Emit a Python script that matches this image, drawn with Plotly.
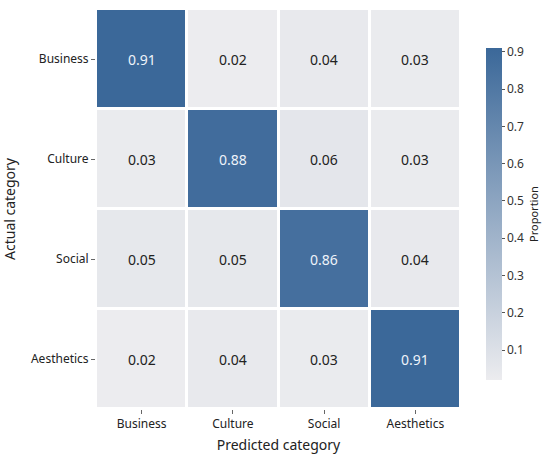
import plotly.graph_objects as go

categories = ["Business", "Culture", "Social", "Aesthetics"]
values = [
    [0.91, 0.02, 0.04, 0.03],
    [0.03, 0.88, 0.06, 0.03],
    [0.05, 0.05, 0.86, 0.04],
    [0.02, 0.04, 0.03, 0.91],
]

FONT = "Noto Sans"
zmin = min(min(r) for r in values)
zmax = max(max(r) for r in values)

fig = go.Figure(go.Heatmap(
    z=values, x=categories, y=categories,
    colorscale=[[0, "#ececef"], [1, "#3b6899"]],
    xgap=3, ygap=3,
    colorbar=dict(
        title=dict(text="Proportion", side="right", font=dict(size=11, color="#222")),
        thickness=16, thicknessmode="pixels",
        len=332, lenmode="pixels",
        x=1.068, xanchor="left", xpad=0,
        y=0.4875, yanchor="middle", ypad=0,
        outlinewidth=0,
        ticks="outside", ticklen=3, tickcolor="#555",
        tickvals=[0.1, 0.2, 0.3, 0.4, 0.5, 0.6, 0.7, 0.8, 0.9],
        tickfont=dict(size=12, color="#333"),
    ),
    hoverongaps=False,
))

annotations = []
for i, row in enumerate(values):
    for j, v in enumerate(row):
        frac = (v - zmin) / (zmax - zmin)
        annotations.append(dict(
            x=categories[j], y=categories[i], text=f"{v:.2f}",
            showarrow=False,
            font=dict(size=14, family=FONT, color="#eef3fa" if frac > 0.5 else "#222222"),
        ))

fig.update_layout(
    width=550, height=460,
    margin=dict(l=96, r=85, t=9, b=51),
    paper_bgcolor="white", plot_bgcolor="white",
    font=dict(family=FONT, color="#222"),
    annotations=annotations,
    xaxis=dict(
        title=dict(text="Predicted category", font=dict(size=14), standoff=8),
        ticks="outside", ticklen=4, tickcolor="#666",
        tickfont=dict(size=12, color="#222"), showgrid=False, zeroline=False,
    ),
    yaxis=dict(
        title=dict(text="Actual category", font=dict(size=14), standoff=12),
        autorange="reversed",
        ticks="outside", ticklen=4, tickcolor="#666",
        tickfont=dict(size=12, color="#222"), showgrid=False, zeroline=False,
    ),
)

fig.write_html("out.html", config={"displayModeBar": False},
               post_script="document.body.style.margin='0';")
